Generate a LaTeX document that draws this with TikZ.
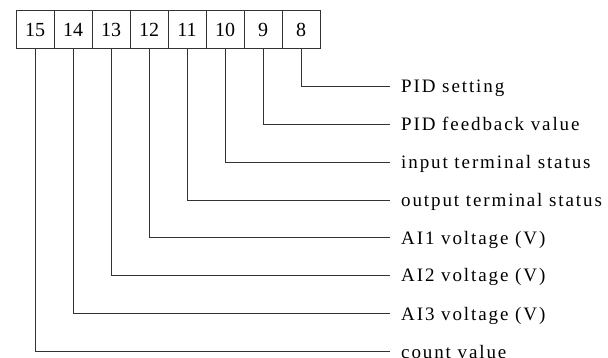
\documentclass[tikz,border=0pt]{standalone}
\usepackage{fontspec}
\setmainfont{Liberation Serif}
\newfontfamily\lblfont[LetterSpace=10]{Liberation Serif}
\begin{document}
\begin{tikzpicture}[x=1pt,y=-1pt,
  bitbox/.style={draw=black!80,line width=0.8pt,minimum width=38pt,minimum height=37.6pt,inner sep=0pt,font=\fontsize{20}{22}\selectfont},
  lbl/.style={anchor=base west,inner sep=0pt,font=\lblfont\fontsize{19}{21}\selectfont},
  conn/.style={draw=black!80,line width=0.8pt}]
\useasboundingbox (0,0) rectangle (608,358);
\foreach \n [count=\i from 0] in {15,14,13,12,11,10,9,8}
  \node[bitbox] (b\n) at ({35+38*\i},29.5) {\n};
\foreach \n/\yy/\t in {8/86/PID setting,9/124/PID feedback value,10/162/input terminal status,11/200/output terminal status,12/237.5/AI1 voltage (V),13/275/AI2 voltage (V),14/313/AI3 voltage (V),15/351/count value}{
  \coordinate (e\n) at (390,\yy);
  \node[lbl] (l\n) at (401,\yy+7) {\t};
  \draw[conn] (b\n.south) |- (e\n);
}
\end{tikzpicture}
\end{document}
